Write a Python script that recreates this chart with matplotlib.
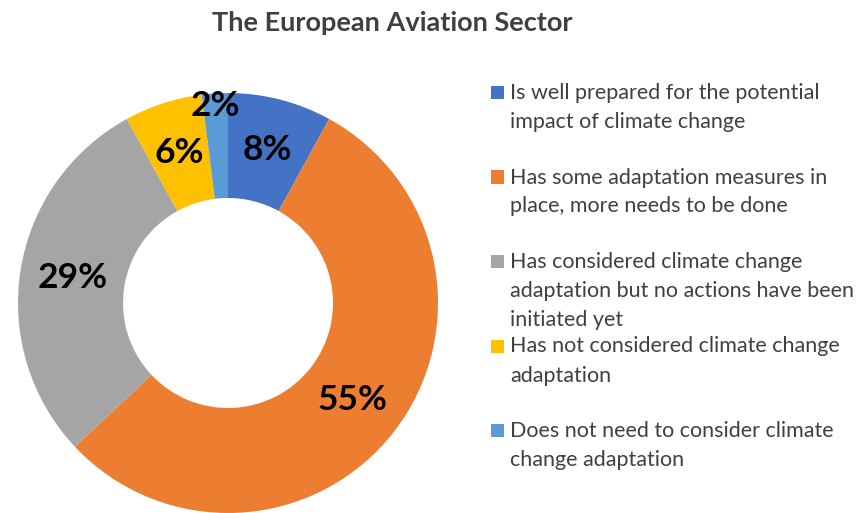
import numpy as np
import matplotlib
matplotlib.use("Agg")
import matplotlib.pyplot as plt
from matplotlib.patches import Rectangle

# data
categories = [
    "Is well prepared for the potential\nimpact of climate change",
    "Has some adaptation measures in\nplace, more needs to be done",
    "Has considered climate change\nadaptation but no actions have been\ninitiated yet",
    "Has not considered climate change\nadaptation",
    "Does not need to consider climate\nchange adaptation",
]
shares = [8, 55, 29, 6, 2]
colors = ["#4472C4", "#ED7D31", "#A5A5A5", "#FFC000", "#5B9BD5"]

plt.rcParams['font.family'] = ['Lato', 'DejaVu Sans']
W, H = 863, 513
fig = plt.figure(figsize=(W / 100, H / 100), dpi=100)

def px(x, y):  # pixel from top-left -> figure fraction
    return x / W, 1 - y / H

# donut: centre (228, 303), outer radius 210 px
ax = fig.add_axes([18 / W, 0 / H, 420 / W, 420 / H])
wedges, _ = ax.pie(shares, colors=colors, startangle=90, counterclock=False,
                   radius=1, wedgeprops=dict(width=0.5, linewidth=0))
ax.set_xlim(-1, 1)
ax.set_ylim(-1, 1)
ax.set_aspect('equal')
ax.axis('off')
for w in wedges:
    w.set_clip_on(False)

for w, v in zip(wedges, shares):
    ang = np.radians((w.theta1 + w.theta2) / 2)
    r = 0.75 if v >= 5 else 0.94
    ax.text(r * np.cos(ang), r * np.sin(ang), f"{v}%", ha='center', va='center',
            fontsize=25.5, fontweight='bold', color='black')

# title
fig.text(*px(392, 23), "The European Aviation Sector", ha='center', va='center',
         fontsize=19.5, fontweight='bold', color='#404040')

# legend, drawn by hand so entries sit on a fixed pitch like the original
y0, pitch, lh = 99, 84.5, 29
for i, (lab, c) in enumerate(zip(categories, colors)):
    yb = y0 + i * pitch
    for k, line in enumerate(lab.split("\n")):
        fig.text(*px(510, yb + k * lh), line, ha='left', va='baseline',
                 fontsize=15.5, color='#404040')
    x1, y1 = px(491, yb)
    fig.patches.append(Rectangle((x1, y1), 13 / W, 13 / H, transform=fig.transFigure,
                                 facecolor=c, edgecolor='none'))

fig.savefig("out.png", dpi=100, facecolor='white')
